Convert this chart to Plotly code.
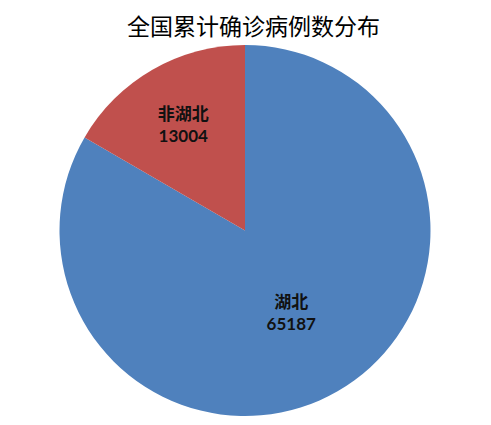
import plotly.graph_objects as go

# cumulative confirmed cases distribution
regions = ["湖北", "非湖北"]
cases = [65187, 13004]
colors = ["#4F81BD", "#C0504D"]

TITLE = "全国累计确诊病例数分布"
CJK_FONT = "Noto Sans CJK SC"
NUM_FONT = "Lato"

# pie placement in pixels (left, right, top, bottom)
W, H = 491, 425
PIE_L, PIE_R, PIE_T, PIE_B = 51, 423, 37, 408

fig = go.Figure()
fig.add_trace(go.Pie(
    labels=regions,
    values=cases,
    sort=False,
    direction="clockwise",
    rotation=0,
    marker=dict(colors=colors, line=dict(width=0)),
    texttemplate=("<b>%{label}</b><br>"
                  f"<span style='font-family:{NUM_FONT}'><b>%{{value:.0f}}</b></span>"),
    textposition="inside",
    insidetextorientation="horizontal",
    textfont=dict(family=CJK_FONT, size=17, color="#111111"),
    showlegend=False,
    hoverinfo="label+value+percent",
    domain=dict(x=[PIE_L/W, PIE_R/W], y=[1 - PIE_B/H, 1 - PIE_T/H]),
))

fig.update_layout(
    width=W,
    height=H,
    title=dict(text=TITLE, x=0.5, xanchor="center", y=1 - 19/H, yanchor="middle",
               font=dict(family=CJK_FONT, size=23, color="black")),
    paper_bgcolor="white",
    plot_bgcolor="white",
    margin=dict(l=0, r=0, t=0, b=0),
)

fig.write_html("out.html")
